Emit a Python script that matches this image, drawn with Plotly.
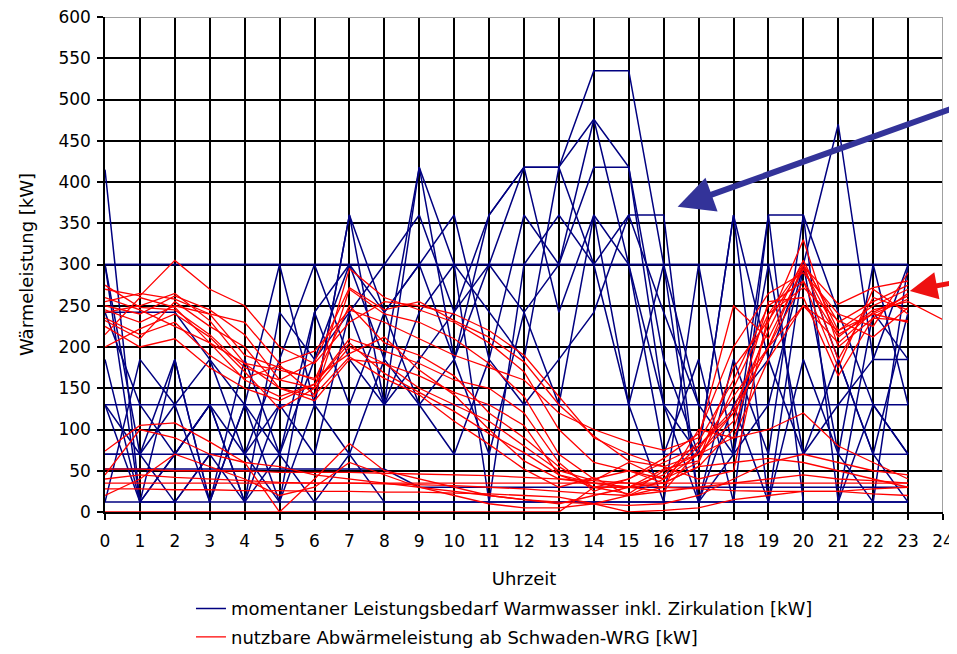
import plotly.graph_objects as go

hours = list(range(24))
hours_ext = list(range(25))

# ---- Warmwasser demand (blue), one list per day ----
blue_01 = [300, 300, 300, 300, 300, 300, 300, 300, 300, 300, 300, 300, 300, 300, 300, 300, 300, 300, 300, 300, 300, 300, 300, 300]
blue_02 = [300, 300, 300, 300, 300, 300, 300, 300, 300, 300, 300, 300, 300, 300, 300, 300, 300, 300, 300, 300, 300, 300, 300, 300]
blue_03 = [415, 12, 12, 70, 12, 70, 12, 70, 12, 12, 12, 12, 12, 12, 12, 12, 12, 12, 12, 12, 12, 12, 12, 12]
blue_04 = [300, 12, 185, 12, 130, 300, 130, 360, 130, 418, 185, 360, 418, 418, 300, 130, 300, 12, 130, 12, 300, 70, 300, 130]
blue_05 = [242, 130, 70, 130, 12, 242, 185, 300, 242, 300, 360, 185, 360, 300, 476, 418, 130, 70, 360, 185, 300, 470, 185, 300]
blue_06 = [70, 70, 12, 70, 70, 130, 70, 242, 300, 360, 242, 360, 418, 418, 535, 535, 300, 130, 70, 300, 70, 185, 70, 242]
blue_07 = [12, 185, 130, 185, 70, 185, 300, 185, 130, 242, 300, 12, 300, 360, 300, 360, 360, 12, 185, 70, 360, 12, 242, 185]
blue_08 = [130, 70, 185, 12, 185, 70, 242, 300, 185, 418, 300, 242, 185, 418, 476, 300, 70, 185, 12, 360, 360, 242, 130, 70]
blue_09 = [185, 12, 70, 130, 12, 130, 130, 360, 242, 300, 185, 300, 242, 300, 418, 418, 185, 70, 360, 12, 185, 70, 12, 300]
blue_10 = [242, 242, 242, 185, 130, 70, 185, 242, 130, 185, 242, 300, 418, 242, 360, 130, 12, 300, 70, 130, 300, 185, 70, 12]
blue_11 = [70, 70, 70, 70, 70, 70, 70, 70, 70, 70, 70, 70, 70, 70, 70, 70, 70, 70, 70, 70, 70, 70, 70, 70]
blue_12 = [52, 52, 52, 52, 52, 52, 52, 52, 52, 30, 30, 30, 30, 30, 30, 30, 30, 30, 30, 30, 30, 30, 30, 30]
blue_13 = [12, 12, 12, 12, 12, 12, 12, 12, 12, 12, 12, 12, 12, 12, 12, 12, 12, 12, 12, 12, 12, 12, 12, 12]
blue_14 = [130, 130, 130, 130, 130, 130, 130, 130, 130, 130, 130, 130, 130, 130, 130, 130, 130, 130, 130, 130, 130, 130, 130, 130]
blue_15 = [300, 70, 130, 12, 130, 12, 130, 70, 185, 130, 70, 185, 130, 185, 242, 360, 242, 130, 130, 185, 70, 130, 185, 185]
blue_16 = [130, 12, 70, 130, 70, 12, 242, 130, 242, 130, 185, 70, 242, 130, 360, 300, 130, 12, 70, 360, 12, 12, 130, 70]

blue_days = [blue_01, blue_02, blue_03, blue_04, blue_05, blue_06, blue_07, blue_08,
             blue_09, blue_10, blue_11, blue_12, blue_13, blue_14, blue_15, blue_16]

# ---- usable waste heat (red), one list per day ----
red_01 = [270, 262, 305, 270, 250, 200, 180, 230, 255, 250, 240, 220, 190, 140, 90, 70, 55, 70, 120, 200, 300, 230, 255, 275]
red_02 = [250, 240, 262, 245, 215, 160, 150, 295, 260, 245, 230, 205, 170, 100, 60, 50, 35, 55, 100, 230, 330, 200, 235, 265]
red_03 = [232, 210, 255, 225, 200, 150, 140, 270, 240, 230, 210, 180, 140, 70, 40, 50, 40, 60, 150, 240, 300, 185, 260, 245]
red_04 = [245, 230, 250, 240, 190, 175, 160, 250, 205, 190, 165, 120, 90, 55, 30, 30, 45, 85, 160, 250, 280, 175, 270, 240]
red_05 = [215, 260, 248, 205, 160, 140, 155, 210, 195, 180, 160, 150, 120, 60, 25, 40, 65, 95, 200, 265, 290, 240, 225, 290]
red_06 = [200, 222, 240, 212, 170, 125, 150, 200, 180, 165, 145, 130, 105, 45, 30, 22, 50, 70, 110, 255, 260, 165, 235, 232]
red_07 = [260, 245, 225, 205, 180, 150, 135, 185, 180, 150, 130, 110, 80, 50, 38, 60, 40, 80, 125, 220, 305, 220, 250, 270]
red_08 = [242, 250, 265, 232, 180, 172, 162, 192, 212, 172, 142, 100, 62, 40, 35, 30, 52, 62, 175, 232, 298, 252, 272, 280]
red_09 = [235, 215, 230, 190, 162, 178, 142, 188, 162, 142, 110, 82, 52, 30, 42, 20, 30, 100, 90, 185, 250, 205, 242, 262]
red_10 = [275, 248, 245, 215, 175, 160, 182, 272, 245, 255, 232, 212, 182, 130, 92, 62, 55, 40, 50, 240, 272, 232, 212, 248]
red_11 = [225, 200, 210, 175, 150, 135, 155, 205, 168, 145, 122, 95, 72, 45, 35, 30, 25, 75, 140, 200, 280, 212, 245, 255, 233]
red_12 = [255, 265, 258, 240, 230, 180, 195, 245, 230, 210, 190, 175, 160, 120, 100, 85, 75, 90, 250, 210, 295, 215, 240, 258]
red_13 = [74, 105, 108, 85, 60, 0, 40, 83, 50, 40, 30, 20, 15, 10, 20, 30, 35, 55, 60, 65, 60, 50, 40, 30]
red_14 = [20, 40, 70, 55, 40, 20, 30, 60, 45, 30, 20, 10, 5, 5, 10, 20, 40, 70, 90, 100, 120, 80, 60, 40]
red_15 = [40, 45, 42, 40, 38, 36, 35, 35, 34, 33, 32, 30, 28, 25, 22, 20, 25, 30, 35, 40, 45, 40, 38, 35]
red_16 = [35, 35, 35, 35, 35, 35, 35, 35, 35, 35, 35, 35, 35, 35, 35, 35, 35, 35, 35, 35, 35, 35, 35, 35]
red_17 = [0, 0, 0, 0, 0, 0, 0, 0, 0, 0, 0, 0, 0, 0, 30, 40, 60, 80, 120, 200, 250, 220, 240, 230]
red_18 = [28, 28, 27, 27, 26, 26, 25, 25, 24, 24, 23, 22, 20, 18, 10, 0, 2, 5, 15, 20, 25, 25, 22, 20]
red_19 = [52, 52, 50, 50, 50, 48, 48, 48, 47, 46, 45, 44, 42, 40, 38, 35, 30, 28, 26, 25, 25, 25, 28, 30]
red_20 = [45, 100, 90, 70, 60, 55, 45, 40, 35, 30, 25, 20, 15, 12, 10, 8, 10, 20, 40, 60, 70, 60, 50, 45]

red_days = [red_01, red_02, red_03, red_04, red_05, red_06, red_07, red_08, red_09, red_10,
            red_11, red_12, red_13, red_14, red_15, red_16, red_17, red_18, red_19, red_20]

x_ticks = list(range(25))
y_ticks = list(range(0, 601, 50))

blue_name = "momentaner Leistungsbedarf Warmwasser inkl. Zirkulation [kW]"
red_name = "nutzbare Abwärmeleistung ab Schwaden-WRG [kW]"

fig = go.Figure()
for i, day in enumerate(blue_days):
    fig.add_trace(go.Scatter(
        x=hours[:len(day)], y=day, mode="lines",
        line=dict(color="#000080", width=1.5),
        name=blue_name, legendgroup="blue", showlegend=(i == 0),
    ))
for i, day in enumerate(red_days):
    fig.add_trace(go.Scatter(
        x=hours_ext[:len(day)], y=day, mode="lines",
        line=dict(color="#FF0000", width=1.3),
        name=red_name, legendgroup="red", showlegend=(i == 0),
    ))

font_main = "DejaVu Sans, Arial, sans-serif"

# the page body adds an 8px margin, so the figure is sized to fit the window
fig.update_layout(
    width=949, height=646,
    margin=dict(l=97, r=14, t=9, b=142, autoexpand=False),
    paper_bgcolor="white", plot_bgcolor="white",
    font=dict(family=font_main, size=17, color="black"),
    showlegend=True,
    legend=dict(
        x=0.1026, y=-0.158, xanchor="left", yanchor="top",
        orientation="v", traceorder="grouped", tracegroupgap=2,
        font=dict(family=font_main, size=18, color="black"),
        bgcolor="rgba(0,0,0,0)", itemwidth=30,
    ),
    xaxis=dict(
        range=[0, 24], tickmode="array", tickvals=x_ticks,
        showgrid=True, gridcolor="black", gridwidth=1.5,
        showline=True, linecolor="black", linewidth=1.5,
        ticks="outside", ticklen=6, tickcolor="black", tickwidth=1.5,
        ticklabelstandoff=7, automargin=False, ticklabeloverflow="allow",
        zeroline=False, tickfont=dict(size=17),
        title=dict(text="Uhrzeit", standoff=22, font=dict(size=18)),
    ),
    yaxis=dict(
        range=[0, 600], tickmode="array", tickvals=y_ticks,
        showgrid=True, gridcolor="black", gridwidth=1.5,
        showline=True, linecolor="black", linewidth=1.5,
        ticks="outside", ticklen=6, tickcolor="black", tickwidth=1.5,
        ticklabelstandoff=3, automargin=False, ticklabeloverflow="allow",
        zeroline=False, tickfont=dict(size=17),
        title=dict(text="Wärmeleistung [kW]", standoff=20, font=dict(size=18)),
    ),
    shapes=[
        dict(type="line", xref="x", yref="paper", x0=24, x1=24, y0=0, y1=1,
             line=dict(color="#a0a0a0", width=2), layer="above"),
        dict(type="line", xref="paper", yref="y", x0=0, x1=1, y0=600, y1=600,
             line=dict(color="#a0a0a0", width=2), layer="above"),
    ],
    annotations=[
        dict(x=16.4, y=370, xref="x", yref="y", ax=285, ay=-100,
             axref="pixel", ayref="pixel", showarrow=True, text="",
             arrowhead=2, arrowsize=1.2, arrowwidth=6, arrowcolor="#333399",
             standoff=0),
        dict(x=23.05, y=268, xref="x", yref="y", ax=52, ay=-9,
             axref="pixel", ayref="pixel", showarrow=True, text="",
             arrowhead=2, arrowsize=1.1, arrowwidth=5, arrowcolor="#EE1111",
             standoff=0),
    ],
)

fig.write_html("out.html")
